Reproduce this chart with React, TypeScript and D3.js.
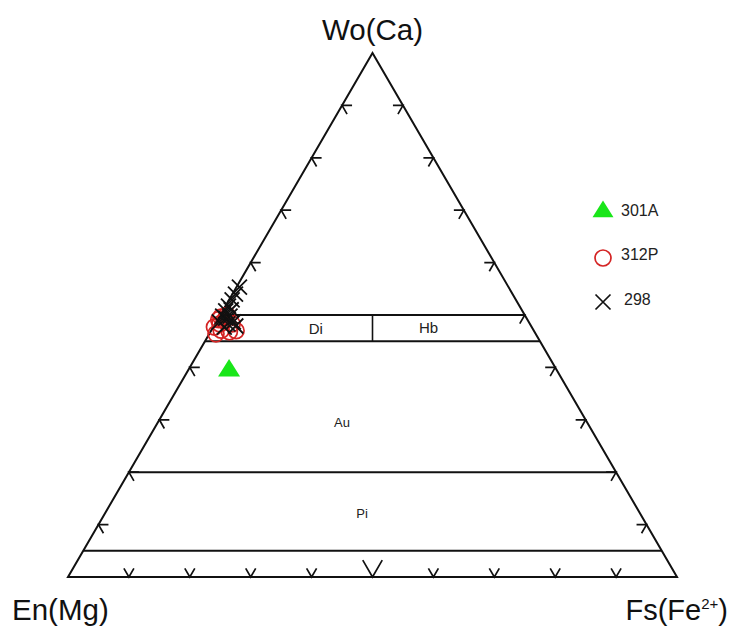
import React, { useEffect } from 'react';
import * as d3 from 'd3';

// ---- data ----
const tickValues = [10, 20, 30, 40, 50, 60, 70, 80, 90];
const boundaryWo = [50, 45, 20, 5];
const dividerMgRatio = [50];
const regionNames = ['Di', 'Hb', 'Au', 'Pi'];
const regionWo = [47.4, 47.6, 29.6, 12.2];
const regionFs = [17.0, 35.4, 30.2, 42.2];
const regionFontSize = [15, 15, 13, 13];

const s301A_Wo = [39.7];
const s301A_Fs = [6.6];

const s312P_Wo = [49.6, 50.0, 47.7, 47.1, 46.8, 47.0, 48.9, 46.4, 48.3, 48.3, 49.1];
const s312P_Fs = [0.3, 1.1, 0.2, 1.6, 3.1, 4.1, 1.2, 1.1, 2.8, 0.8, 0.2];

const s298_Wo = [55.3, 54.0, 52.9, 51.7, 50.8, 49.8, 49.4, 49.8, 48.7, 48.3, 47.7, 47.9, 48.7, 51.0];
const s298_Fs = [0.5, 0.5, 0.5, 0.5, 0.5, 0.5, 1.2, 1.7, 2.8, 2.1, 1.8, 3.6, 0.5, 1.3];

const legendNames = ['301A', '312P', '298'];

const W = 734;
const H = 633;

export default function App() {
  useEffect(() => {
    document.body.style.margin = '0';
  }, []);

  const sx = d3.scaleLinear().domain([0, 100]).range([68, 677]);
  const sy = d3.scaleLinear().domain([0, 100]).range([577, 53]);
  const proj = (wo: number, fs: number): [number, number] => [sx(fs + wo / 2), sy(wo)];
  const line = d3.line();

  const pEn = proj(0, 0);
  const pFs = proj(0, 100);
  const pWo = proj(100, 0);

  const ink = '#111';
  const sw = 2;
  const font = 'Liberation Sans, Arial, Helvetica, sans-serif';

  // chevron ticks
  const L = 10;
  const c60 = Math.cos(Math.PI / 3) * L;
  const s60 = Math.sin(Math.PI / 3) * L;
  const ticks: string[] = [];
  tickValues.forEach((t) => {
    const [lx, ly] = proj(t, 0);
    ticks.push(line([[lx + L, ly], [lx, ly], [lx + c60, ly + s60]])!);
    const [rx, ry] = proj(t, 100 - t);
    ticks.push(line([[rx - L, ry], [rx, ry], [rx - c60, ry + s60]])!);
    const [bx, by] = proj(0, t);
    const k = t === 50 ? 1.95 : 1;
    ticks.push(line([[bx - c60 * k, by - s60 * k], [bx, by], [bx + c60 * k, by - s60 * k]])!);
  });

  const triPath = (cx: number, cy: number, r: number) =>
    line([[cx, cy - r], [cx + r * 1.1, cy + r * 0.75], [cx - r * 1.1, cy + r * 0.75]])! + 'Z';
  const crossPath = (cx: number, cy: number, r: number) =>
    `M${cx - r},${cy - r}L${cx + r},${cy + r}M${cx - r},${cy + r}L${cx + r},${cy - r}`;

  const green = '#19e619';
  const red = '#d42424';

  return (
    <svg width={W} height={H} style={{ display: 'block', background: '#fff' }} fontFamily={font}>
      {/* triangle */}
      <path d={line([pEn, pFs, pWo])! + 'Z'} fill="none" stroke={ink} strokeWidth={sw} strokeLinejoin="miter" />
      {/* boundaries */}
      {boundaryWo.map((w) => (
        <path key={w} d={line([proj(w, 0), proj(w, 100 - w)])!} stroke={ink} strokeWidth={sw} />
      ))}
      {dividerMgRatio.map((m) => (
        <path
          key={m}
          d={line([proj(50, 50 * (100 - m) / 100), proj(45, 55 * (100 - m) / 100)])!}
          stroke={ink}
          strokeWidth={1.6}
        />
      ))}
      {ticks.map((d, i) => (
        <path key={i} d={d} fill="none" stroke={ink} strokeWidth={1.7} />
      ))}
      {/* region labels */}
      {regionNames.map((n, i) => {
        const [x, y] = proj(regionWo[i], regionFs[i]);
        return (
          <text key={n} x={x} y={y + 5} textAnchor="middle" fontSize={regionFontSize[i]} fill="#222">
            {n}
          </text>
        );
      })}
      {/* 312P circles */}
      {s312P_Wo.map((w, i) => {
        const [x, y] = proj(w, s312P_Fs[i]);
        return <circle key={'c' + i} cx={x} cy={y} r={8} fill="none" stroke={red} strokeWidth={1.7} />;
      })}
      {/* data: 298 crosses */}
      {s298_Wo.map((w, i) => {
        const [x, y] = proj(w, s298_Fs[i]);
        return <path key={'x' + i} d={crossPath(x, y, 7.5)} stroke="#111" strokeWidth={1.8} />;
      })}
      {/* 301A triangle */}
      {s301A_Wo.map((w, i) => {
        const [x, y] = proj(w, s301A_Fs[i]);
        return <path key={'t' + i} d={triPath(x, y, 10)} fill={green} />;
      })}
      {/* corner labels */}
      <text x={pWo[0]} y={40} textAnchor="middle" fontSize={29.5} fill="#111">Wo(Ca)</text>
      <text x={12} y={620} fontSize={29.5} fill="#111">En(Mg)</text>
      <text x={728} y={620} textAnchor="end" fontSize={29} fill="#111">
        Fs(Fe<tspan fontSize={15} dy={-11}>2+</tspan><tspan dy={11}>)</tspan>
      </text>
      {/* legend */}
      <g>
        <path d={triPath(603, 210, 9.5)} fill={green} />
        <text x={621} y={216} fontSize={16} fill="#222">{legendNames[0]}</text>
        <circle cx={603} cy={258} r={8} fill="none" stroke={red} strokeWidth={1.7} />
        <text x={621} y={260} fontSize={16} fill="#222">{legendNames[1]}</text>
        <path d={crossPath(603, 302, 7.5)} stroke="#111" strokeWidth={1.7} />
        <text x={624} y={305} fontSize={16} fill="#222">{legendNames[2]}</text>
      </g>
    </svg>
  );
}
